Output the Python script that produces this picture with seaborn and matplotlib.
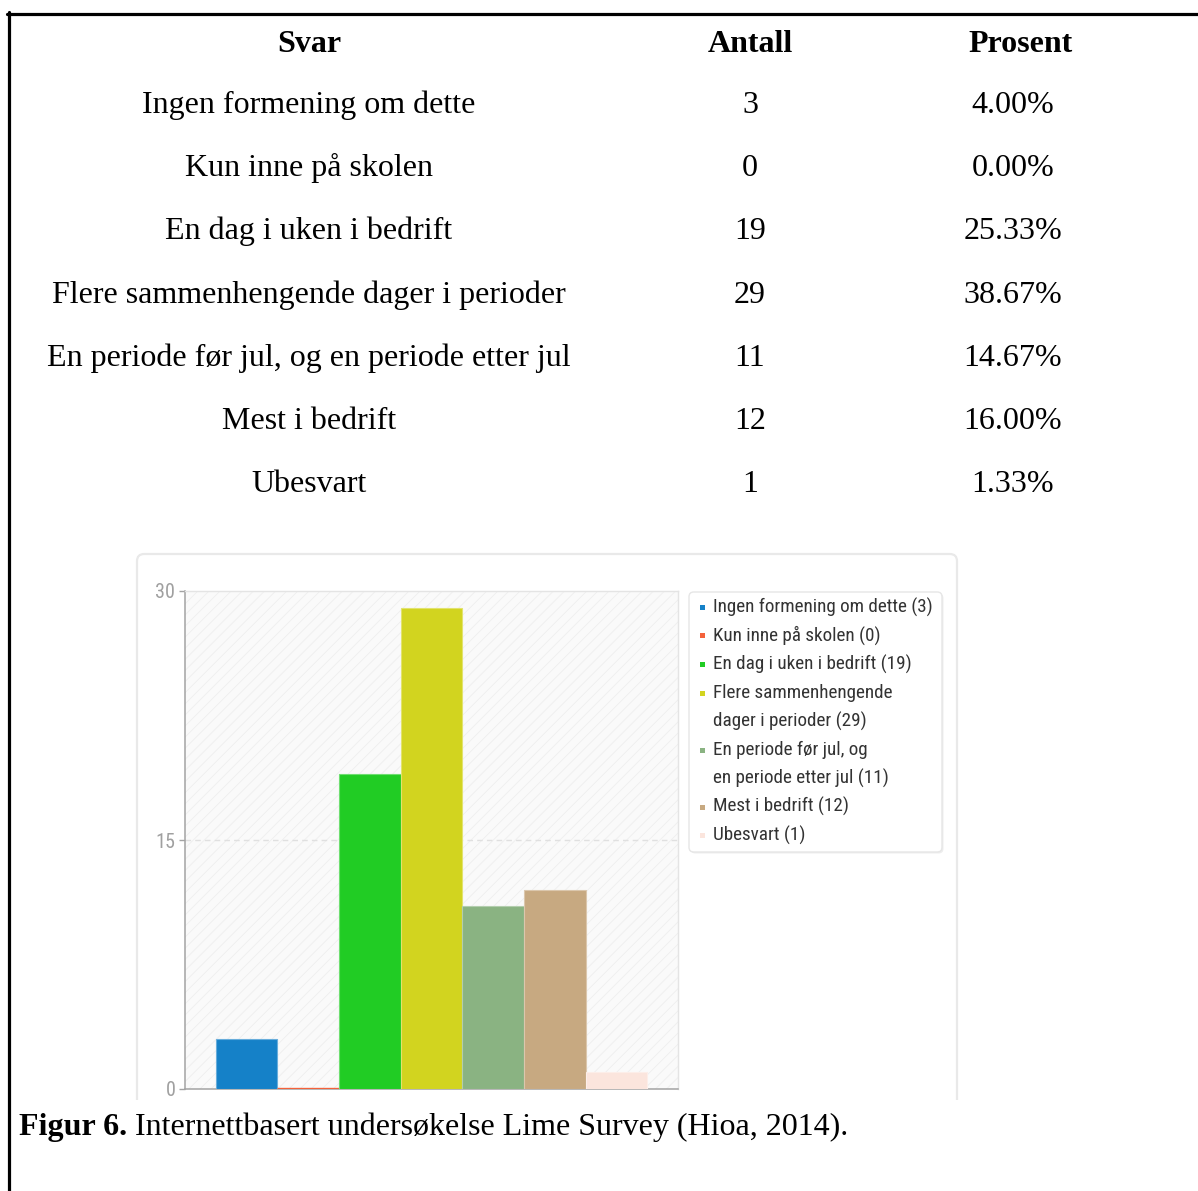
import matplotlib
matplotlib.use("Agg")
import matplotlib.pyplot as plt
import matplotlib.colors as mcolors
from matplotlib.patches import FancyBboxPatch, Rectangle
from matplotlib.lines import Line2D
import numpy as np
import pandas as pd
import seaborn as sns

# ---- data ----
svar = [
    "Ingen formening om dette",
    "Kun inne på skolen",
    "En dag i uken i bedrift",
    "Flere sammenhengende dager i perioder",
    "En periode før jul, og en periode etter jul",
    "Mest i bedrift",
    "Ubesvart",
]
antall = [3, 0, 19, 29, 11, 12, 1]
prosent = [4.00, 0.00, 25.33, 38.67, 14.67, 16.00, 1.33]
legend_labels = [
    "Ingen formening om dette (3)",
    "Kun inne på skolen (0)",
    "En dag i uken i bedrift (19)",
    "Flere sammenhengende\ndager i perioder (29)",
    "En periode før jul, og\nen periode etter jul (11)",
    "Mest i bedrift (12)",
    "Ubesvart (1)",
]
bar_colors = ["#1581c8", "#f4623b", "#21cc24", "#d2d41f", "#8ab382", "#c7a981", "#fbe5dd"]
y_ticks = [0, 15, 30]

W, H, DPI = 1198, 1191, 100

sns.set_theme(style="white")
plt.rcParams["font.family"] = ["Liberation Serif", "DejaVu Serif"]
plt.rcParams["text.color"] = "black"
plt.rcParams["hatch.linewidth"] = 0.6
plt.rcParams["hatch.color"] = "#eeeeee"

fig = plt.figure(figsize=(W / DPI, H / DPI), dpi=DPI)
fig.patch.set_facecolor("white")


def fx(px):
    return px / W


def fy(py):
    return 1 - py / H


SERIF = ["Liberation Serif", "DejaVu Serif"]
NARROW = ["Roboto Condensed", "Liberation Sans Narrow", "Roboto"]

# ---- frame around the page block ----
fig.add_artist(Line2D([fx(7), 1.0], [fy(13.5), fy(13.5)], color="black", lw=2.3))
fig.add_artist(Line2D([fx(8.5), fx(8.5)], [fy(12), 0.0], color="black", lw=2.3))

# ---- table ----
FS = 23.0
for x, head in zip([309, 750, 1021], ["Svar", "Antall", "Prosent"]):
    fig.text(fx(x), fy(52), head, ha="center", va="baseline", fontsize=FS,
             fontweight="bold", family=SERIF, color="black")

row0, step = 113, 63.17
for i, (s, a, p) in enumerate(zip(svar, antall, prosent)):
    yb = fy(row0 + i * step)
    fig.text(fx(309), yb, s, ha="center", va="baseline", fontsize=FS, family=SERIF, color="black")
    fig.text(fx(750), yb, f"{a}", ha="center", va="baseline", fontsize=FS, family=SERIF, color="black")
    fig.text(fx(1013), yb, f"{p:.2f}%", ha="center", va="baseline", fontsize=FS, family=SERIF,
             color="black")

# ---- chart panel ----
panel = FancyBboxPatch((fx(137), fy(1140)), fx(957) - fx(137), fy(554) - fy(1140),
                       boxstyle="round,pad=0,rounding_size=0.006",
                       transform=fig.transFigure, facecolor="white",
                       edgecolor="#e9e9e9", lw=1.6, zorder=0)
fig.add_artist(panel)
fig.add_artist(Rectangle((fx(125), 0), fx(975) - fx(125), fy(1100), transform=fig.transFigure,
                         facecolor="white", edgecolor="none", zorder=0.5))

ax = fig.add_axes([fx(185), fy(1089), fx(678) - fx(185), fy(591) - fy(1089)], zorder=1)
ax.set_facecolor("#fafafa")
ax.add_patch(Rectangle((0, 0), 1, 1, transform=ax.transAxes, facecolor="none",
                       edgecolor="#eeeeee", hatch="///", lw=0, zorder=0.5))
ax.axhline(15, color="#e0e0e0", ls=(0, (4, 3)), lw=1, zorder=1)

df = pd.DataFrame({"svar": svar, "antall": antall})
sns.barplot(data=df, x="svar", y="antall", hue="svar", order=svar, hue_order=svar,
            palette=dict(zip(svar, bar_colors)), saturation=1, width=1.0,
            legend=False, ax=ax, zorder=3)

for patch in ax.patches:
    if patch.get_hatch():
        continue
    fc = np.array(mcolors.to_rgb(patch.get_facecolor()))
    if patch.get_height() == 0:
        patch.set_edgecolor(fc)
        patch.set_linewidth(2.4)
    else:
        patch.set_edgecolor(fc + (1 - fc) * 0.35)
        patch.set_linewidth(0.8)

ax.set_xlim(-1.0, 7.0)
ax.set_ylim(0, 30)
ax.set_yticks(y_ticks)
ax.set_xticks([])
ax.set_xlabel("")
ax.set_ylabel("")
for side in ["left", "bottom"]:
    ax.spines[side].set_color("#a3a3a3")
    ax.spines[side].set_linewidth(1.1)
for side in ["top", "right"]:
    ax.spines[side].set_visible(True)
    ax.spines[side].set_color("#e4e4e4")
    ax.spines[side].set_linewidth(1.0)
ax.tick_params(axis="y", left=True, length=4, width=1, color="#a3a3a3",
               labelcolor="#a0a0a0", labelsize=14.5, pad=3)
for lab in ax.get_yticklabels():
    lab.set_family(NARROW)

# ---- legend ----
fig.add_artist(FancyBboxPatch((fx(690.5), fy(853.5)), fx(942) - fx(689), fy(592) - fy(852),
                              boxstyle="round,pad=0,rounding_size=0.004",
                              transform=fig.transFigure, facecolor="#eeeeee",
                              edgecolor="none", zorder=1.9))
fig.add_artist(FancyBboxPatch((fx(689), fy(852)), fx(942) - fx(689), fy(592) - fy(852),
                              boxstyle="round,pad=0,rounding_size=0.004",
                              transform=fig.transFigure, facecolor="white",
                              edgecolor="#e6e6e6", lw=1.0, zorder=2))
line_y, line_step = 607, 28.5
for lab, col in zip(legend_labels, bar_colors):
    fig.add_artist(Rectangle((fx(699.5), fy(line_y + 3)), 5 / W, 5 / H, transform=fig.transFigure,
                             facecolor=col, edgecolor="none", zorder=3))
    for ln in lab.split("\n"):
        fig.text(fx(713), fy(line_y), ln, ha="left", va="center", fontsize=13.8,
                 color="#333333", family=NARROW, zorder=3)
        line_y += line_step

# ---- caption ----
fig.text(fx(19), fy(1135), "Figur 6.", ha="left", va="baseline", fontsize=FS,
         fontweight="bold", family=SERIF, color="black", zorder=4)
fig.text(fx(135), fy(1135), "Internettbasert undersøkelse Lime Survey (Hioa, 2014).",
         ha="left", va="baseline", fontsize=FS, family=SERIF, color="black", zorder=4)

fig.savefig("out.png", dpi=DPI, facecolor="white")
